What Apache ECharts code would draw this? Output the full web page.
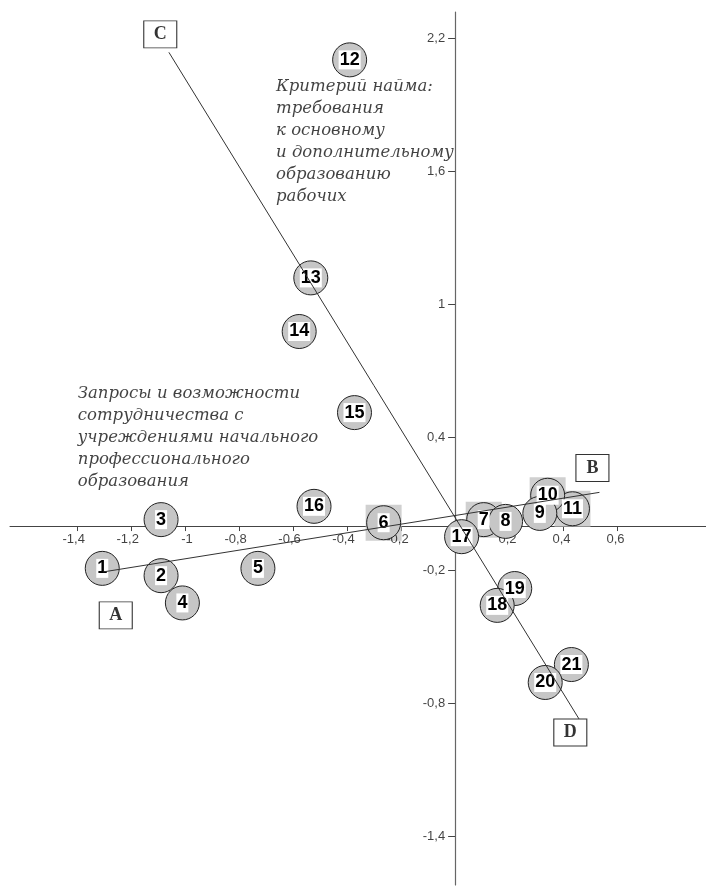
<!DOCTYPE html>
<html>
<head>
<meta charset="utf-8">
<script src="https://cdn.jsdelivr.net/npm/echarts@6/dist/echarts.min.js"></script>
<style>
html,body{margin:0;padding:0;background:#fff;}
#chart{width:706px;height:891px;}
</style>
</head>
<body>
<div id="chart"></div>
<script>
// ---- data, listed in drawing order ----
const pointLabels = ['1','2','3','4','5','6','7','8','11','10','9','12','13','14','15','16','17','19','18','21','20'];
const pointX = [-1.308,-1.090,-1.090,-1.011,-0.731,-0.265,0.106,0.187,0.435,0.343,0.314,-0.391,-0.535,-0.578,-0.373,-0.523,0.024,0.221,0.156,0.431,0.334];
const pointY = [-0.191,-0.224,0.029,-0.347,-0.191,0.015,0.029,0.021,0.078,0.139,0.057,2.104,1.120,0.878,0.512,0.089,-0.048,-0.282,-0.358,-0.625,-0.706];
const squaredLabels = ['6','7','10','11'];

const lineABx = [-1.304, 0.535];
const lineABy = [-0.207, 0.152];
const lineCDx = [-1.061, 0.459];
const lineCDy = [2.138, -0.870];

const boxLabels = ['A','B','C','D'];
const boxX = [-1.258, 0.509, -1.093, 0.427];
const boxY = [-0.403, 0.262, 2.219, -0.932];

const xTicks = [-1.4,-1.2,-1,-0.8,-0.6,-0.4,-0.2,0.2,0.4,0.6];
const yTicks = [-1.4,-0.8,-0.2,0.4,1,1.6,2.2];

const noteLabels = [
  'Критерий найма:\nтребования\nк основному\nи дополнительному\nобразованию\nрабочих',
  'Запросы и возможности\nсотрудничества с\nучреждениями начального\nпрофессионального\nобразования'
];
const noteX = [-0.662, -1.397];
const noteY = [2.030, 0.644];

// ---- build ----
const pts = pointLabels.map((n,i)=>({name:n, value:[pointX[i], pointY[i]]}));
const sq = pts.filter(p=>squaredLabels.includes(p.name));
const fmt = v => String(v).replace('.', ',');
const tickFont = {fontSize:13, fontFamily:'Liberation Sans, Arial, sans-serif', color:'#111'};

const chart = echarts.init(document.getElementById('chart'));
chart.setOption({
  animation:false,
  backgroundColor:'#fff',
  grid:{left:10, right:0, top:12, bottom:6, containLabel:false, outerBoundsMode:'none'},
  xAxis:{
    type:'value', min:-1.65, max:0.93,
    splitLine:{show:false},
    axisLine:{onZero:true, lineStyle:{color:'#444', width:1}},
    axisTick:{show:true, length:5, customValues:xTicks, lineStyle:{color:'#444'}},
    axisLabel:{show:false}
  },
  yAxis:{
    type:'value', min:-1.62, max:2.32,
    splitLine:{show:false},
    axisLine:{onZero:true, lineStyle:{color:'#666', width:1.2}},
    axisTick:{show:true, length:7, customValues:yTicks, lineStyle:{color:'#444'}},
    axisLabel:{show:false}
  },
  series:[
    { // x tick labels
      type:'scatter', z:1, symbolSize:0, silent:true,
      label:Object.assign({show:true, position:'bottom', distance:7, align:'right',
        offset:[7.5,0], formatter:p=>fmt(p.value[0])}, tickFont),
      data:xTicks.map(t=>[t,0])
    },
    { // y tick labels
      type:'scatter', z:1, symbolSize:0, silent:true,
      label:Object.assign({show:true, position:'left', distance:10,
        formatter:p=>fmt(p.value[1])}, tickFont),
      data:yTicks.map(t=>[0,t])
    },
    {
      type:'scatter', z:1, symbol:'rect', symbolSize:36,
      itemStyle:{color:'#c4c4c4'}, silent:true,
      data:sq
    },
    {
      type:'scatter', z:2, symbol:'circle', symbolSize:34,
      itemStyle:{color:'#c6c6c6', borderColor:'#222', borderWidth:1, opacity:1},
      label:{show:true, position:'inside', formatter:'{b}', color:'#000',
        fontSize:18, fontWeight:'bold', fontFamily:'Liberation Sans, Arial, sans-serif',
        backgroundColor:'#fff', padding:[1,1,0,1]},
      data:pts
    },
    {
      type:'line', z:5, symbol:'none', silent:true,
      lineStyle:{color:'#333', width:1},
      data:lineABx.map((x,i)=>[x, lineABy[i]])
    },
    {
      type:'line', z:5, symbol:'none', silent:true,
      lineStyle:{color:'#333', width:1},
      data:lineCDx.map((x,i)=>[x, lineCDy[i]])
    },
    {
      type:'scatter', z:6, symbol:'rect', symbolSize:[33,27],
      itemStyle:{color:'#fff', borderColor:'#000', borderWidth:1},
      label:{show:true, position:'inside', formatter:'{b}', color:'#000',
        fontSize:18, fontWeight:'bold', fontFamily:'Liberation Serif, Times New Roman, serif'},
      data:boxLabels.map((n,i)=>({name:n, value:[boxX[i], boxY[i]]}))
    },
    {
      type:'scatter', z:4, symbolSize:1, itemStyle:{color:'rgba(0,0,0,0)'}, silent:true,
      label:{show:true, position:[0,0], align:'left', verticalAlign:'top',
        formatter:'{b}', color:'#111', fontSize:16.5, fontStyle:'italic', lineHeight:22,
        fontFamily:'DejaVu Serif, serif'},
      data:noteLabels.map((n,i)=>({name:n, value:[noteX[i], noteY[i]]}))
    }
  ]
});
</script>
</body>
</html>
